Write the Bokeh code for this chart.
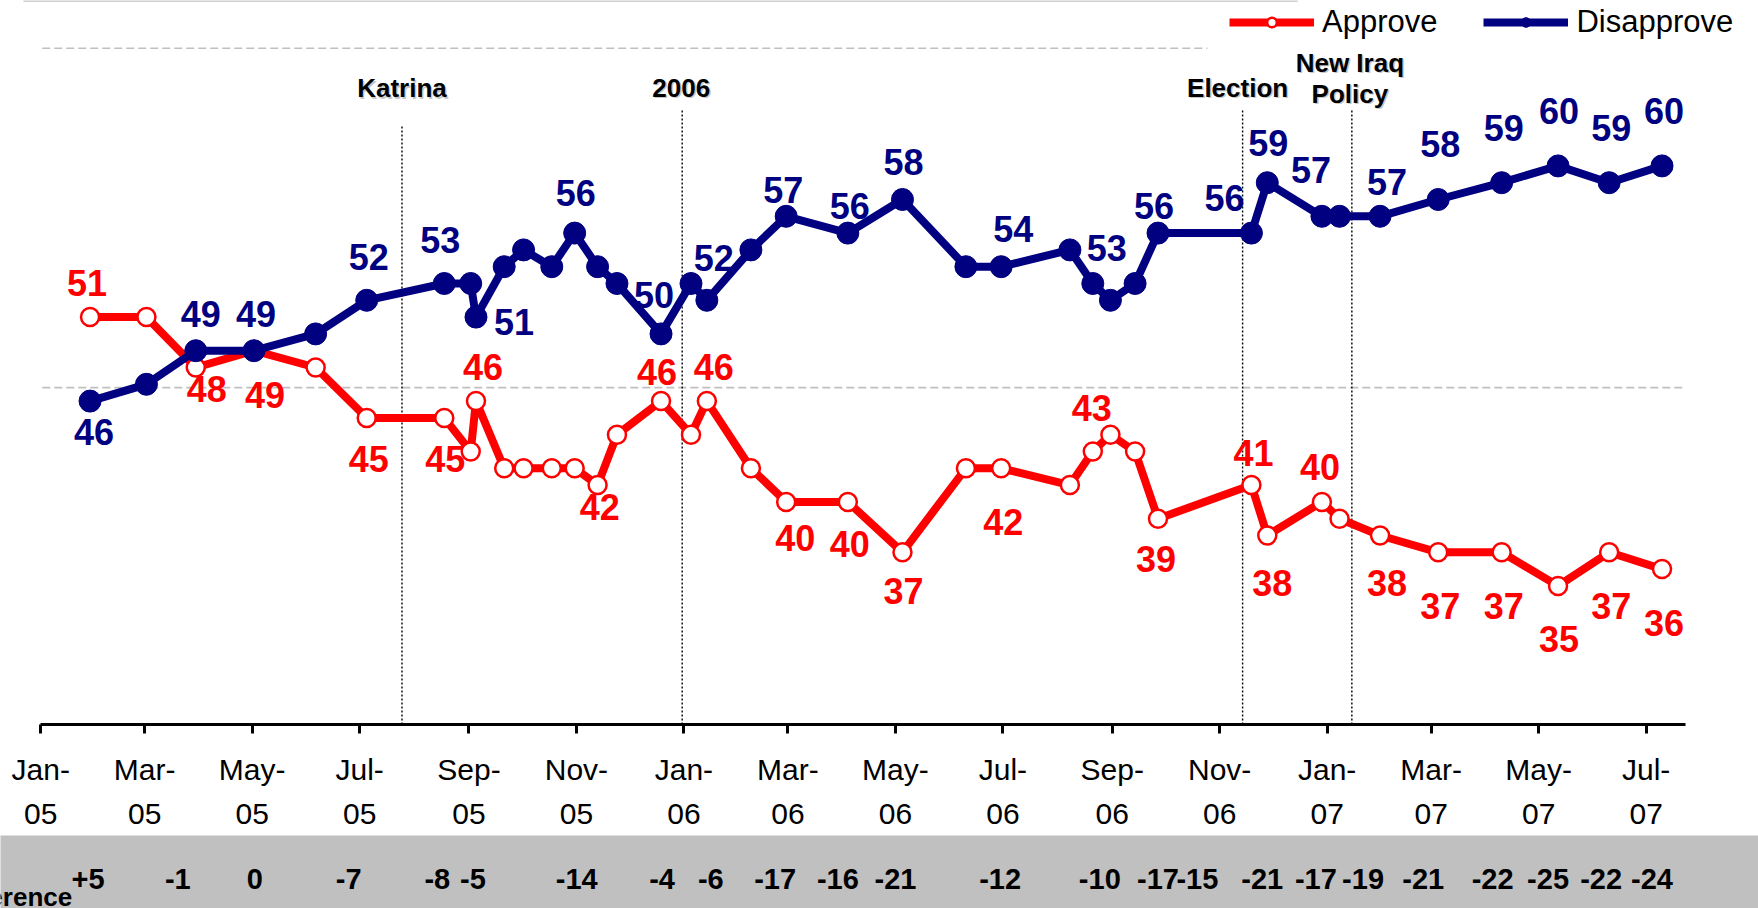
import pandas as pd
from bokeh.plotting import figure
from bokeh.models import (Range1d, FixedTicker, ColumnDataSource, Legend, LegendItem,
                          LinearAxis)
from bokeh.layouts import column
from bokeh.core.properties import value
from bokeh.embed import file_html
from bokeh.resources import INLINE

# ------------------------------------------------------------------ data
poll_dates = ["2005-01-29", "2005-03-02", "2005-03-30", "2005-05-02", "2005-06-06",
              "2005-07-05", "2005-08-18", "2005-09-02", "2005-09-05", "2005-09-21",
              "2005-10-02", "2005-10-18", "2005-10-31", "2005-11-13", "2005-11-24",
              "2005-12-19", "2006-01-05", "2006-01-14", "2006-02-08", "2006-02-28",
              "2006-04-04", "2006-05-05", "2006-06-10", "2006-06-30", "2006-08-08",
              "2006-08-21", "2006-08-31", "2006-09-14", "2006-09-27", "2006-11-19",
              "2006-11-28", "2006-12-29", "2007-01-08", "2007-01-31", "2007-03-05",
              "2007-04-10", "2007-05-12", "2007-06-10", "2007-07-10"]
approve = [51, 51, 48, 49, 48, 45, 45, 43, 46, 42, 42, 42, 42, 41, 44, 46, 44, 46, 42, 40,
           40, 37, 42, 42, 41, 43, 44, 43, 39, 41, 38, 40, 39, 38, 37, 37, 35, 37, 36]
disapprove = [46, 47, 49, 49, 50, 52, 53, 53, 51, 54, 55, 54, 56, 54, 53, 50, 53, 52, 55, 57,
              56, 58, 54, 54, 55, 53, 52, 53, 56, 56, 59, 57, 57, 57, 58, 59, 60, 59, 60]
# polls that carry value labels and a difference figure
labeled_points = [0, 2, 3, 5, 6, 8, 12, 15, 17, 19, 20, 21, 23, 25, 28, 29, 30, 31, 33,
                  34, 35, 36, 37, 38]
series_names = ["Approve", "Disapprove"]
tick_months = ["2005-01-01", "2005-03-01", "2005-05-01", "2005-07-01", "2005-09-01",
               "2005-11-01", "2006-01-01", "2006-03-01", "2006-05-01", "2006-07-01",
               "2006-09-01", "2006-11-01", "2007-01-01", "2007-03-01", "2007-05-01",
               "2007-07-01"]
events = ["Katrina", "2006", "Election", "New Iraq\nPolicy"]
event_dates = ["2005-07-25", "2005-12-31", "2006-11-14", "2007-01-15"]
difference_title = "Difference"
reference_lines = [46.8, 67.0]

# ------------------------------------------------------------------ style / placement
FONT_NAME = "Liberation Sans"
FONT = value(FONT_NAME)
RED = "#FF0000"
NAVY = "#000080"
BAND = "#C0C0C0"
W = 1758
MAIN_H = 835
BAND_H = 73
AXIS_H = 111
X_VIEW = (-22.81, 974.74)      # days since axis start
Y_VIEW = (26.75, 69.845)
AXIS_END_DAY = 933.6
GRID_ENDS = ["2007-07-23", "2006-10-25"]
TOP_RULE = (-9.8, 713.2)
EVENT_TOPS = [62.35, 63.3, 63.3, 63.3]
EVENT_DX = [0, -1, -5, -2]
EVENT_DY = [-38, -22.6, -22.6, -16.6]
EVENT_LINE_GAP = 31

approve_label_offsets = [(-3, -34), (11, 22), (11, 44), (2, 41), (1, 41), (7, -34), (25, 39),
                         (-4, -29), (7, -34), (9, 36), (2, 42), (1, 39), (2, 54), (-1, -43),
                         (-2, 40), (2, -32), (5, 48), (-2, -35), (7, 48), (2, 54), (2, 54),
                         (1, 53), (2, 54), (2, 54)]
disapprove_label_offsets = [(4, 31), (5, -37), (2, -37), (2, -43), (-4, -43), (38, 5), (1, -40),
                            (-7, -39), (7, -42), (-3, -26), (2, -27), (1, -37), (12, -38),
                            (14, -35), (-4, -27), (-27, -35), (1, -40), (-11, -46), (7, -34),
                            (2, -55), (2, -55), (1, -55), (2, -55), (2, -55)]
difference_x_offsets = [-2, -18, 1, -18, -7, -3, 2, 1, 4, -11, -10, -7, -1, 7, 0, -54, -5, -6,
                        -17, -15, -9, -10, -8, -10]

base = pd.Timestamp(tick_months[0])


def day(d):
    return (pd.Timestamp(d) - base) / pd.Timedelta(days=1)


x_days = [day(d) for d in poll_dates]
tick_days = [day(d) for d in tick_months]

# ------------------------------------------------------------------ main figure
p = figure(width=W, height=MAIN_H, x_range=Range1d(*X_VIEW), y_range=Range1d(*Y_VIEW),
           output_backend="svg", toolbar_location=None, tools="",
           x_axis_location=None, y_axis_location=None,
           min_border_left=0, min_border_right=0, min_border_top=0,
           min_border_bottom=AXIS_H)
p.outline_line_color = None
p.background_fill_color = "white"
p.border_fill_color = "white"
for g in p.grid:
    g.visible = False

ticker = FixedTicker(ticks=tick_days)
ax1 = LinearAxis(ticker=ticker, bounds=(0, AXIS_END_DAY),
                 major_label_overrides={t: f"{pd.Timestamp(m):%b}-" for t, m in zip(tick_days, tick_months)})
ax1.axis_line_width = 3
ax1.axis_line_color = "black"
ax1.major_tick_out = 9
ax1.major_tick_in = 0
ax1.major_tick_line_width = 3
ax1.major_tick_line_color = "black"
ax1.minor_tick_line_color = None
ax1.major_label_text_font = FONT_NAME
ax1.major_label_text_font_size = "30px"
ax1.major_label_text_color = "black"
ax1.major_label_standoff = 19
p.add_layout(ax1, "below")

ax2 = LinearAxis(ticker=ticker,
                 major_label_overrides={t: f"{pd.Timestamp(m):%y}" for t, m in zip(tick_days, tick_months)})
ax2.axis_line_color = None
ax2.major_tick_line_color = None
ax2.minor_tick_line_color = None
ax2.major_tick_out = 0
ax2.major_tick_in = 0
ax2.major_label_text_font = FONT_NAME
ax2.major_label_text_font_size = "30px"
ax2.major_label_text_color = "black"
ax2.major_label_standoff = 15
p.add_layout(ax2, "below")

# thin rule along the top edge and dashed reference lines
p.segment(x0=[TOP_RULE[0]], x1=[TOP_RULE[1]], y0=[Y_VIEW[1]], y1=[Y_VIEW[1]],
          line_color="#CFCFCF", line_width=3)
p.segment(x0=[0.9] * len(reference_lines), x1=[day(d) for d in GRID_ENDS],
          y0=reference_lines, y1=reference_lines,
          line_color="#BFBFBF", line_width=1.6, line_dash="8 4")

# event markers
ev_days = [day(d) for d in event_dates]
p.segment(x0=ev_days, x1=ev_days, y0=[Y_VIEW[0]] * len(ev_days), y1=EVENT_TOPS,
          line_color="black", line_width=1.4, line_dash="2 2")
ev_x, ev_y, ev_t, ev_dx, ev_dy = [], [], [], [], []
for xd, top, txt, dx, dy in zip(ev_days, EVENT_TOPS, events, EVENT_DX, EVENT_DY):
    lines = txt.split("\n")
    n = len(lines)
    for i, ln in enumerate(lines):
        ev_x.append(xd)
        ev_y.append(top)
        ev_t.append(ln)
        ev_dx.append(dx)
        ev_dy.append(dy - (n - 1 - i) * EVENT_LINE_GAP)
ev_src = ColumnDataSource(dict(x=ev_x, y=ev_y, t=ev_t, dx=ev_dx, dy=ev_dy,
                               sdx=[v + 1.5 for v in ev_dx], sdy=[v + 1.5 for v in ev_dy]))
p.text(x="x", y="y", text="t", source=ev_src, x_offset="sdx", y_offset="sdy",
       text_font=FONT, text_font_style="bold", text_font_size="26px",
       text_color="#7f7f7f", text_alpha=0.45, text_align="center", text_baseline="middle")
p.text(x="x", y="y", text="t", source=ev_src, x_offset="dx", y_offset="dy",
       text_font=FONT, text_font_style="bold", text_font_size="26px",
       text_color="black", text_align="center", text_baseline="middle")

# series
r_line = p.line(x_days, approve, line_color=RED, line_width=8)
r_pts = p.scatter(x_days, approve, marker="circle", size=18, fill_color="white",
                  line_color=RED, line_width=2.5)
n_line = p.line(x_days, disapprove, line_color=NAVY, line_width=8)
n_pts = p.scatter(x_days, disapprove, marker="circle", size=22, fill_color=NAVY,
                  line_color=NAVY, line_width=1)

# value labels
for vals, offs, col in ((approve, approve_label_offsets, RED),
                        (disapprove, disapprove_label_offsets, NAVY)):
    src = ColumnDataSource(dict(
        x=[x_days[i] for i in labeled_points],
        y=[vals[i] for i in labeled_points],
        t=[str(vals[i]) for i in labeled_points],
        dx=[o[0] for o in offs], dy=[o[1] for o in offs]))
    p.text(x="x", y="y", text="t", source=src, x_offset="dx", y_offset="dy",
           text_font=FONT, text_font_style="bold", text_font_size="36px",
           text_color=col, text_align="center", text_baseline="middle")

legend = Legend(items=[LegendItem(label=series_names[0], renderers=[r_line, r_pts]),
                       LegendItem(label=series_names[1], renderers=[n_line, n_pts])],
                orientation="horizontal", location=(1229, 684),
                glyph_width=85, glyph_height=24, label_standoff=8, spacing=46,
                padding=0, margin=0, border_line_color=None, background_fill_alpha=0,
                label_text_font=FONT_NAME, label_text_font_size="31px",
                label_text_color="black")
p.add_layout(legend)

# ------------------------------------------------------------------ difference band
band = figure(width=W, height=BAND_H, x_range=p.x_range, y_range=Range1d(0, 1),
              output_backend="svg", toolbar_location=None, tools="",
              x_axis_location=None, y_axis_location=None, min_border=0,
              background_fill_color=BAND, border_fill_color=BAND)
band.outline_line_color = None
for g in band.grid:
    g.visible = False


def fmt_diff(v):
    return f"+{v}" if v > 0 else str(v)


diffs = [approve[i] - disapprove[i] for i in labeled_points]
d_src = ColumnDataSource(dict(x=[x_days[i] for i in labeled_points], y=[0.5] * len(diffs),
                              t=[fmt_diff(v) for v in diffs], dx=difference_x_offsets))
band.text(x="x", y="y", text="t", source=d_src, x_offset="dx", y_offset=6.8,
          text_font=FONT, text_font_style="bold", text_font_size="29px",
          text_color="black", text_align="center", text_baseline="middle")
band.text(x=[0], y=[0.5], text=[difference_title], x_offset=31.5, y_offset=24.5,
          text_font=FONT, text_font_style="bold", text_font_size="26px",
          text_color="black", text_align="right", text_baseline="middle")

layout = column(p, band, spacing=0)
open("out.html", "w").write(file_html(layout, INLINE))
